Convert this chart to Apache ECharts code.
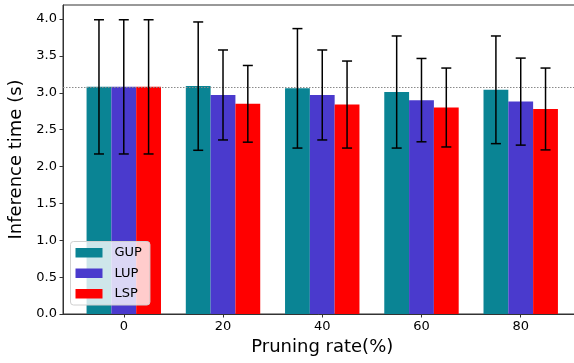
<!DOCTYPE html>
<html>
<head>
<meta charset="utf-8">
<script src="https://cdn.jsdelivr.net/npm/echarts@6/dist/echarts.min.js"></script>
<style>
html,body{margin:0;padding:0;background:#fff;overflow:hidden;}
#chart{width:574px;height:363px;}
</style>
</head>
<body>
<div id="chart"></div>
<script>
const categories = ['0', '20', '40', '60', '80'];
const seriesNames = ['GUP', 'LUP', 'LSP'];
const gupValues = [3.08, 3.09, 3.06, 3.01, 3.04];
const gupErrors = [0.91, 0.87, 0.81, 0.76, 0.73];
const lupValues = [3.08, 2.97, 2.97, 2.90, 2.88];
const lupErrors = [0.91, 0.61, 0.61, 0.565, 0.59];
const lspValues = [3.08, 2.85, 2.84, 2.80, 2.78];
const lspErrors = [0.91, 0.52, 0.59, 0.535, 0.555];
const referenceLine = 3.08;
const yTicks = [0, 0.5, 1.0, 1.5, 2.0, 2.5, 3.0, 3.5, 4.0];

const colors = ['#0a8494', '#4a3acd', '#ff0000'];
const allValues = [gupValues, lupValues, lspValues];
const allErrors = [gupErrors, lupErrors, lspErrors];

const barFrac = 0.25;
const xMin = -0.6125, xMax = 4.6125;
const gridLeft = 63, gridTop = 5, gridBottom = 49;
const plotWidth = 518.5;
const barPx = barFrac * plotWidth / (xMax - xMin);
const xIdx = categories.map((c, i) => i);

const series = [];
seriesNames.forEach((name, s) => {
  const off = (s - 1) * barFrac;
  const bar = {
    name: name,
    type: 'bar',
    barWidth: barPx,
    barGap: '-100%',
    itemStyle: { color: colors[s] },
    data: allValues[s].map((v, i) => [xIdx[i] + off, v]),
    z: 2
  };
  if (s === 0) {
    bar.markLine = {
      silent: true,
      symbol: 'none',
      label: { show: false },
      lineStyle: { type: [1.5, 1.5], color: '#8a8a8a', width: 1 },
      data: [{ yAxis: referenceLine }],
      z: 5
    };
  }
  series.push(bar);
});
seriesNames.forEach((name, s) => {
  const off = (s - 1) * barFrac;
  series.push({
    name: name + ' err',
    type: 'custom',
    z: 6,
    data: allValues[s].map((v, i) => [xIdx[i] + off, v - allErrors[s][i], v + allErrors[s][i]]),
    renderItem: function (params, api) {
      const x = api.value(0);
      const pHi = api.coord([x, api.value(2)]);
      const pLo = api.coord([x, api.value(1)]);
      const cw = 5;
      const st = { stroke: '#000', lineWidth: 1.5 };
      return {
        type: 'group',
        children: [
          { type: 'line', shape: { x1: pHi[0], y1: pHi[1], x2: pLo[0], y2: pLo[1] }, style: st },
          { type: 'line', shape: { x1: pHi[0] - cw, y1: pHi[1], x2: pHi[0] + cw, y2: pHi[1] }, style: st },
          { type: 'line', shape: { x1: pLo[0] - cw, y1: pLo[1], x2: pLo[0] + cw, y2: pLo[1] }, style: st }
        ]
      };
    }
  });
});

const chart = echarts.init(document.getElementById('chart'), null, { renderer: 'canvas' });
chart.setOption({
  animation: false,
  backgroundColor: '#fff',
  textStyle: { fontFamily: 'DejaVu Sans' },
  grid: {
    left: gridLeft, width: plotWidth, top: gridTop, bottom: gridBottom,
    outerBoundsMode: 'none',
    containLabel: false,
    show: true, borderColor: '#333', borderWidth: 1, backgroundColor: 'transparent'
  },
  legend: {
    data: seriesNames,
    orient: 'vertical',
    left: 70.5,
    top: 241.5,
    icon: 'rect',
    itemWidth: 27,
    itemHeight: 9.5,
    itemGap: 6,
    padding: [4, 8, 4, 5],
    backgroundColor: 'rgba(255,255,255,0.8)',
    borderColor: '#d0d0d0',
    borderWidth: 1,
    borderRadius: 3,
    textStyle: { fontFamily: 'DejaVu Sans', fontSize: 13, color: '#000', lineHeight: 14.5, padding: [0, 0, 0, 7] }
  },
  xAxis: {
    type: 'value',
    min: xMin,
    max: xMax,
    name: 'Pruning rate(%)',
    nameLocation: 'middle',
    nameGap: 23,
    nameTextStyle: { fontFamily: 'DejaVu Sans', fontSize: 18, color: '#000' },
    axisLine: { show: true, onZero: false, lineStyle: { color: '#333', width: 1 } },
    axisTick: { show: true, inside: false, length: 3.5, lineStyle: { color: '#333', width: 1 }, customValues: xIdx },
    axisLabel: {
      customValues: xIdx,
      margin: 6,
      fontFamily: 'DejaVu Sans', fontSize: 13, color: '#000',
      formatter: v => categories[Math.round(v)]
    },
    splitLine: { show: false }
  },
  yAxis: {
    type: 'value',
    min: 0,
    max: 4.19,
    name: 'Inference time (s)',
    nameLocation: 'middle',
    nameGap: 28,
    nameTextStyle: { fontFamily: 'DejaVu Sans', fontSize: 18, color: '#000' },
    axisLine: { show: true, onZero: false, lineStyle: { color: '#333', width: 1 } },
    axisTick: { show: true, length: 3.5, lineStyle: { color: '#333', width: 1 }, customValues: yTicks },
    axisLabel: {
      customValues: yTicks,
      margin: 6,
      padding: [2, 0, 0, 0],
      fontFamily: 'DejaVu Sans', fontSize: 13, color: '#000',
      formatter: v => v.toFixed(1)
    },
    splitLine: { show: false }
  },
  series: series
});
</script>
</body>
</html>
